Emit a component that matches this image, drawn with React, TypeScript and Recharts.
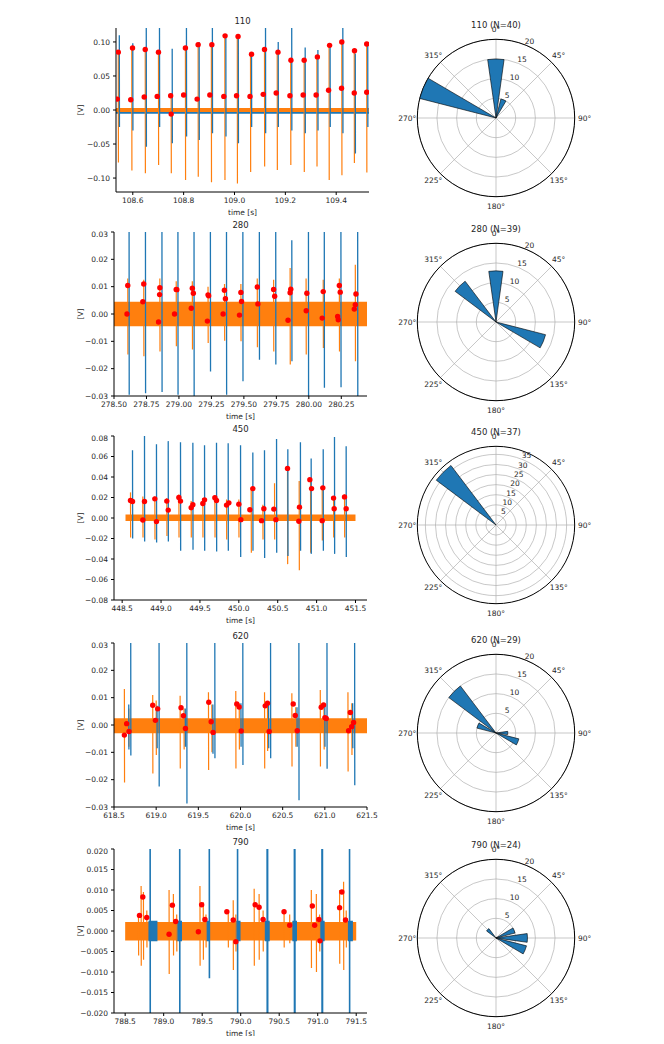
import React from "react";
import {
  ComposedChart,
  Line,
  Area,
  Scatter,
  XAxis,
  YAxis,
  RadialBarChart,
  RadialBar,
  PolarAngleAxis,
  PolarRadiusAxis,
  PolarGrid,
} from "recharts";

const FONT = "DejaVu Sans, sans-serif";
const BLUE = "#1f77b4";
const ORANGE = "#ff7f0e";
const TEXT = "#262626";

// ---------- 110 ----------
const s110OrangeT = [108.543, 108.596, 108.649, 108.701, 108.751, 108.807, 108.857, 108.909, 108.962, 109.011, 109.063, 109.118, 109.168, 109.221, 109.274, 109.324, 109.372, 109.422, 109.471, 109.52];
const s110OrangeHi = [0.087, 0.092, 0.09, 0.087, 0.025, 0.093, 0.097, 0.097, 0.11, 0.109, 0.083, 0.09, 0.086, 0.074, 0.074, 0.08, 0.096, 0.101, 0.088, 0.098];
const s110OrangeLo = [-0.077, -0.089, -0.093, -0.081, -0.093, -0.103, -0.098, -0.106, -0.103, -0.108, -0.091, -0.083, -0.088, -0.081, -0.091, -0.083, -0.103, -0.096, -0.078, -0.092];
const s110BlueT = [108.547, 108.6, 108.653, 108.705, 108.755, 108.811, 108.861, 108.913, 108.966, 109.015, 109.067, 109.122, 109.172, 109.225, 109.278, 109.328, 109.376, 109.426, 109.475, 109.524];
const s110BlueHi = [0.11, 0.098, 0.13, 0.13, 0.09, 0.13, 0.1, 0.13, 0.11, 0.105, 0.083, 0.13, 0.1, 0.13, 0.092, 0.088, 0.095, 0.13, 0.083, 0.1];
const s110BlueLo = [-0.025, -0.03, -0.054, -0.025, -0.049, -0.039, -0.044, -0.034, -0.039, -0.049, -0.025, -0.034, -0.025, -0.03, -0.034, -0.03, -0.025, -0.034, -0.064, -0.025];
const s110DotT = [108.543, 108.599, 108.649, 108.701, 108.807, 108.857, 108.911, 108.963, 109.014, 109.067, 109.118, 109.171, 109.222, 109.274, 109.326, 109.374, 109.422, 109.472, 109.52,
  108.539, 108.592, 108.645, 108.696, 108.749, 108.751, 108.8, 108.853, 108.903, 108.958, 109.008, 109.061, 109.113, 109.164, 109.218, 109.27, 109.321, 109.37, 109.421, 109.471, 109.52];
const s110DotV = [0.085, 0.091, 0.089, 0.085, 0.091, 0.096, 0.096, 0.109, 0.108, 0.082, 0.089, 0.085, 0.073, 0.073, 0.078, 0.095, 0.1, 0.087, 0.097,
  0.016, 0.015, 0.019, 0.02, 0.021, -0.006, 0.022, 0.016, 0.022, 0.02, 0.021, 0.02, 0.023, 0.025, 0.021, 0.022, 0.022, 0.029, 0.032, 0.025, 0.026];
const s110XTicks = [108.6, 108.8, 109.0, 109.2, 109.4];
const s110YTicks = [-0.1, -0.05, 0, 0.05, 0.1];

// ---------- 280 ----------
const s280OrangeT = [278.606, 278.729, 278.853, 278.979, 279.103, 279.224, 279.351, 279.477, 279.603, 279.729, 279.856, 279.979, 280.111, 280.235, 280.358];
const s280OrangeHi = [0.013, 0.0125, 0.013, 0.012, 0.012, 0.01, 0.011, 0.011, 0.013, 0.0125, 0.0168, 0.013, 0.0125, 0.013, 0.018];
const s280OrangeLo = [-0.0148, -0.0155, -0.0137, -0.0118, -0.013, -0.0106, -0.0098, -0.01, -0.0122, -0.0137, -0.0185, -0.0148, -0.0124, -0.0137, -0.0173];
const s280BlueT = [278.616, 278.742, 278.869, 278.992, 279.116, 279.242, 279.366, 279.492, 279.619, 279.745, 279.869, 279.997, 280.119, 280.247, 280.376];
const s280BlueHi = [0.04, 0.04, 0.04, 0.04, 0.04, 0.04, 0.04, 0.04, 0.04, 0.04, 0.027, 0.04, 0.04, 0.04, 0.04];
const s280BlueLo = [-0.0295, -0.029, -0.0285, -0.0295, -0.031, -0.021, -0.0295, -0.0246, -0.0167, -0.0185, -0.0173, -0.031, -0.027, -0.0268, -0.031];
const s280DotT = [278.606, 278.729, 278.853, 278.979, 279.103, 279.224, 279.35, 279.477, 279.603, 279.729, 279.861, 279.985, 280.111, 280.235, 280.363,
  278.722, 278.851, 278.984, 279.095, 279.111, 279.229, 279.358, 279.482, 279.608, 279.737, 279.856, 279.98, 280.242, 280.358, 280.35,
  278.6, 278.843, 278.966, 279.219, 279.34, 279.466, 279.84, 280.103, 280.222, 280.227];
const s280DotV = [0.0104, 0.011, 0.0096, 0.009, 0.0094, 0.007, 0.0087, 0.0079, 0.0099, 0.009, 0.0091, 0.0076, 0.0082, 0.0104, 0.0073,
  0.0045, 0.0071, 0.0089, 0.0021, 0.0076, 0.0067, 0.0056, 0.0046, 0.0037, 0.0065, 0.0078, 0.0012, 0.008, 0.0034, 0.0018,
  0.0, -0.0029, 0.0, -0.0026, 0.0, -0.0004, -0.0023, -0.0015, -0.0009, -0.0021];
const s280XTicks = [278.5, 278.75, 279.0, 279.25, 279.5, 279.75, 280.0, 280.25];
const s280YTicks = [-0.03, -0.02, -0.01, 0, 0.01, 0.02, 0.03];

// ---------- 450 ----------
const s450OrangeT = [448.607, 448.766, 448.92, 449.074, 449.229, 449.387, 449.537, 449.692, 449.842, 450.0, 450.159, 450.309, 450.459, 450.626, 450.776, 450.922, 451.072, 451.218, 451.359];
const s450OrangeHi = [0.025, 0.021, 0.021, 0.0195, 0.023, 0.0165, 0.0195, 0.022, 0.018, 0.018, 0.029, 0.013, 0.034, 0.049, 0.036, 0.039, 0.031, 0.0195, 0.023];
const s450OrangeLo = [-0.019, -0.019, -0.021, -0.0175, -0.019, -0.019, -0.019, -0.019, -0.021, -0.019, -0.034, -0.021, -0.021, -0.045, -0.051, -0.034, -0.022, -0.019, -0.019];
const s450BlueT = [448.633, 448.787, 448.941, 449.092, 449.25, 449.409, 449.559, 449.713, 449.863, 450.022, 450.18, 450.33, 450.485, 450.63, 450.792, 450.93, 451.085, 451.23, 451.38];
const s450BlueHi = [0.066, 0.085, 0.072, 0.075, 0.074, 0.0735, 0.071, 0.0735, 0.073, 0.071, 0.064, 0.066, 0.077, 0.067, 0.074, 0.058, 0.067, 0.079, 0.07];
const s450BlueLo = [-0.02, -0.023, -0.024, -0.023, -0.032, -0.031, -0.032, -0.0326, -0.032, -0.038, -0.032, -0.039, -0.034, -0.037, -0.032, -0.035, -0.032, -0.035, -0.038];
const s450DotT = [448.607, 448.633, 448.766, 448.787, 448.92, 448.941, 449.074, 449.092, 449.229, 449.25, 449.387, 449.409, 449.537, 449.559, 449.692, 449.713, 449.842, 449.872, 450.0, 450.026, 450.142, 450.18, 450.292, 450.322, 450.45, 450.476, 450.626, 450.772, 450.78, 450.913, 450.935, 451.072, 451.08, 451.218, 451.226, 451.359, 451.38];
const s450DotV = [0.0171, 0.0161, -0.0019, 0.0161, 0.0187, -0.0035, 0.0165, 0.0077, 0.02, 0.0165, 0.01, 0.0129, 0.0142, 0.0177, 0.0197, 0.0171, 0.0126, 0.0148, 0.0135, -0.0016, 0.0081, 0.0287, -0.0026, 0.009, 0.0087, -0.0016, 0.0484, -0.0032, 0.0106, 0.0374, 0.0287, -0.0026, 0.0294, 0.0194, 0.009, 0.0206, 0.009];
const s450XTicks = [448.5, 449.0, 449.5, 450.0, 450.5, 451.0, 451.5];
const s450YTicks = [-0.08, -0.06, -0.04, -0.02, 0, 0.02, 0.04, 0.06, 0.08];

// ---------- 620 ----------
const s620OrangeT = [618.623, 618.675, 618.959, 619.0, 619.284, 619.33, 619.62, 619.66, 619.944, 619.985, 620.285, 620.32, 620.609, 620.655, 620.946, 620.99, 621.274, 621.32];
const s620OrangeHi = [0.0132, 0.006, 0.011, 0.009, 0.0107, 0.006, 0.012, 0.0075, 0.0124, 0.008, 0.012, 0.0085, 0.0116, 0.0065, 0.0128, 0.006, 0.012, 0.008];
const s620OrangeLo = [-0.021, -0.008, -0.0177, -0.011, -0.0159, -0.009, -0.0165, -0.01, -0.0159, -0.009, -0.0159, -0.0095, -0.0152, -0.008, -0.0152, -0.009, -0.017, -0.011];
const s620BlueT = [618.675, 618.698, 619.01, 619.034, 619.345, 619.363, 619.672, 619.695, 620.005, 620.027, 620.333, 620.356, 620.67, 620.692, 621.0, 621.025, 621.33, 621.353];
const s620BlueHi = [0.0075, 0.04, 0.007, 0.04, 0.006, 0.04, 0.0075, 0.04, 0.008, 0.04, 0.0075, 0.04, 0.0065, 0.04, 0.0075, 0.04, 0.008, 0.04];
const s620BlueLo = [-0.009, -0.0112, -0.0085, -0.0225, -0.008, -0.0287, -0.0105, -0.0122, -0.008, -0.0146, -0.0085, -0.0122, -0.008, -0.0275, -0.008, -0.016, -0.0085, -0.022];
const s620DotT = [618.623, 618.65, 618.678, 618.959, 618.991, 619.018, 619.295, 619.323, 619.347, 619.624, 619.652, 619.675, 619.956, 619.984, 620.008, 620.293, 620.32, 620.34, 620.625, 620.649, 620.673, 620.957, 620.985, 621.001, 621.017, 621.282, 621.302, 621.318, 621.341];
const s620DotV = [-0.0037, 0.0005, -0.0024, 0.0072, 0.0017, 0.0059, 0.0063, 0.0034, -0.0013, 0.0083, 0.0012, -0.0027, 0.0077, 0.0066, -0.0022, 0.007, 0.008, -0.0024, 0.0077, 0.0035, -0.0021, 0.0065, 0.0073, 0.0027, 0.0024, -0.0021, 0.0046, -0.0006, 0.0009];
const s620XTicks = [618.5, 619.0, 619.5, 620.0, 620.5, 621.0, 621.5];
const s620YTicks = [-0.03, -0.02, -0.01, 0, 0.01, 0.02, 0.03];

// ---------- 790 ----------
const s790OrangeT = [788.673, 788.707, 788.737, 788.781, 789.07, 789.126, 789.169, 789.471, 789.514, 789.549, 789.838, 789.903, 789.937, 790.175, 790.239, 790.291, 790.563, 790.636, 790.917, 790.982, 791.025, 791.284, 791.336, 791.37];
const s790OrangeHi = [0.004, 0.011, 0.0095, 0.005, 0.01, 0.009, 0.004, 0.011, 0.007, 0.004, 0.005, 0.0075, 0.004, 0.0103, 0.009, 0.005, 0.005, 0.004, 0.01, 0.009, 0.004, 0.01, 0.012, 0.005];
const s790OrangeLo = [-0.006, -0.0085, -0.007, -0.004, -0.0105, -0.006, -0.005, -0.0085, -0.007, -0.004, -0.004, -0.0095, -0.005, -0.0085, -0.007, -0.005, -0.004, -0.003, -0.009, -0.01, -0.005, -0.008, -0.0095, -0.004];
const s790BlueT = [788.824, 789.208, 789.592, 789.959, 790.343, 790.349, 790.697, 790.703, 791.055, 791.061, 791.413];
const s790BlueHi = [0.03, 0.03, 0.03, 0.03, 0.03, 0.03, 0.03, 0.03, 0.03, 0.03, 0.03];
const s790BlueLo = [-0.03, -0.03, -0.0115, -0.03, -0.03, -0.03, -0.03, -0.03, -0.03, -0.03, -0.03];
const s790PacketStart = [788.802, 789.16, 789.549, 789.933, 790.313, 790.671, 791.025, 791.392];
const s790PacketEnd = [788.919, 789.238, 789.601, 789.998, 790.377, 790.731, 791.09, 791.457];
const s790DotT = [788.686, 788.729, 788.78, 789.07, 789.113, 789.156, 789.45, 789.493, 789.536, 789.82, 789.903, 789.937, 790.188, 790.239, 790.291, 790.563, 790.636, 790.93, 790.96, 791.016, 791.029, 791.284, 791.314, 791.361];
const s790DotV = [0.0038, 0.0083, 0.0033, -0.0008, 0.0063, 0.0023, -0.0002, 0.0064, 0.0028, 0.0047, 0.0027, -0.0026, 0.0064, 0.0058, 0.0028, 0.0047, 0.0014, 0.0061, 0.0014, 0.0028, -0.0024, 0.0057, 0.0095, 0.0027];
const s790XTicks = [788.5, 789.0, 789.5, 790.0, 790.5, 791.0, 791.5];
const s790YTicks = [-0.02, -0.015, -0.01, -0.005, 0, 0.005, 0.01, 0.015, 0.02];

// ---------- phase roses ----------
const roseBins = [0, 22.5, 45, 67.5, 90, 112.5, 135, 157.5, 180, 202.5, 225, 247.5, 270, 292.5, 315, 337.5];
const rose110 = [15, 5, 0, 0, 0, 0, 0, 0, 0, 0, 0, 0, 0, 20, 0, 0];
const rose280 = [13, 0, 0, 0, 0, 13, 0, 0, 0, 0, 0, 0, 0, 0, 13, 0];
const rose450 = [0, 0, 0, 0, 0, 0, 0, 0, 0, 0, 0, 0, 0, 0, 37, 0];
const rose620 = [0, 0, 0, 0, 3, 6, 0, 0, 0, 0, 0, 0, 0, 5, 15, 0];
const rose790 = [0, 0, 0, 5, 8, 8, 0, 0, 0, 0, 0, 0, 0, 0, 3, 0];
const gridAngles = [90, 45, 0, -45, -90, -135, -180, -225];

const ROSE_W = 210;
const ROSE_H = 200;
const ROSE_CX = 105;
const ROSE_CY = 100;
const HALF_BIN = 11.25;

type Pt = { t: number; v: number | null };

function spikes(ts: number[], hi: number[], lo: number[], d: number): Pt[] {
  const out: Pt[] = [];
  ts.forEach((t, i) => {
    out.push({ t, v: hi[i] }, { t: t + d, v: lo[i] }, { t: t + 2 * d, v: null });
  });
  return out;
}

function band(x0: number, x1: number, lo: number, hi: number) {
  return [
    { t: x0, band: [lo, hi] },
    { t: x1, band: [lo, hi] },
  ];
}

function packets(starts: number[], ends: number[], lo: number, hi: number) {
  const out: { t: number; band: number[] | null }[] = [];
  starts.forEach((s, i) => {
    out.push({ t: s, band: [lo, hi] }, { t: ends[i], band: [lo, hi] }, { t: ends[i] + 0.001, band: null });
  });
  return out;
}

const fmt = (n: number) => (v: number) => {
  const s = Math.abs(v).toFixed(n);
  return v < -1e-12 ? "\u2212" + s : s;
};

const dotShape = (p: any) => <circle cx={p.cx} cy={p.cy} r={2.7} fill="red" />;

type TraceProps = {
  title: string;
  top: number;
  axisW: number;
  rightM: number;
  xDomain: number[];
  yDomain: number[];
  xTicks: number[];
  yTicks: number[];
  xDec: number;
  yDec: number;
  orange: Pt[];
  blue: Pt[];
  orangeBand: any[];
  blueBand?: any[];
  blueOver?: any[];
  blueWidth?: number;
  dotT: number[];
  dotV: number[];
};

function Trace(p: TraceProps) {
  const dots = p.dotT.map((t, i) => ({ t, v: p.dotV[i] }));
  const tickStyle = { fontSize: 7.5, fill: TEXT, fontFamily: FONT };
  const plotCenter = p.axisW + (372 - p.axisW - p.rightM) / 2;
  return (
    <div style={{ position: "absolute", left: 0, top: p.top, width: 372, height: 190 }}>
      <div
        style={{
          position: "absolute",
          left: plotCenter - 40,
          width: 80,
          top: -11,
          textAlign: "center",
          fontSize: 8.5,
          lineHeight: "12px",
          color: TEXT,
          fontFamily: FONT,
        }}
      >
        {p.title}
      </div>
      <ComposedChart width={372} height={190} margin={{ top: 2, right: p.rightM, bottom: 0, left: 0 }}>
        <XAxis
          type="number"
          dataKey="t"
          domain={p.xDomain}
          ticks={p.xTicks}
          allowDataOverflow
          tickFormatter={fmt(p.xDec)}
          tick={tickStyle}
          tickSize={3}
          tickMargin={3}
          stroke="#000"
          height={24}
          label={{ value: "time [s]", position: "insideBottom", offset: 1, fontSize: 7.5, fill: TEXT, fontFamily: FONT }}
        />
        <YAxis
          type="number"
          domain={p.yDomain}
          ticks={p.yTicks}
          allowDataOverflow
          tickFormatter={fmt(p.yDec)}
          tick={tickStyle}
          tickSize={3}
          tickMargin={3}
          stroke="#000"
          width={p.axisW}
          label={{ value: "[V]", angle: -90, position: "insideLeft", offset: 72, fontSize: 7.5, fill: TEXT, fontFamily: FONT, style: { textAnchor: "middle" } }}
        />
        <XAxis xAxisId="top" orientation="top" type="number" domain={p.xDomain} allowDataOverflow tick={false} tickLine={false} height={0} stroke="#000" />
        <YAxis yAxisId="right" orientation="right" type="number" domain={p.yDomain} allowDataOverflow tick={false} tickLine={false} width={0} stroke="#000" />
        {p.blueBand && (
          <Area data={p.blueBand} dataKey="band" stroke="none" fill={BLUE} fillOpacity={1} isAnimationActive={false} />
        )}
        <Area data={p.orangeBand} dataKey="band" stroke="none" fill={ORANGE} fillOpacity={1} isAnimationActive={false} />
        {p.blueOver && (
          <Area data={p.blueOver} dataKey="band" stroke="none" fill={BLUE} fillOpacity={1} isAnimationActive={false} />
        )}
        <Line data={p.orange} dataKey="v" stroke={ORANGE} strokeWidth={1.2} dot={false} connectNulls={false} isAnimationActive={false} />
        <Line data={p.blue} dataKey="v" stroke={BLUE} strokeWidth={p.blueWidth ?? 1.3} dot={false} connectNulls={false} isAnimationActive={false} />
        <Scatter data={dots} dataKey="v" fill="red" shape={dotShape} isAnimationActive={false} />
      </ComposedChart>
    </div>
  );
}

// category ticks sit at the start of each band; turn them half a bin so the
// label lands on the bin centre, and only label every 45 degrees
function AngleTick(props: any) {
  const { x, y, payload } = props;
  const deg = Number(payload.value);
  if (deg % 45 !== 0) return <g />;
  const cx = props.cx ?? ROSE_CX;
  const cy = props.cy ?? ROSE_CY;
  const dx = x - cx;
  const dy = y - cy;
  const r = Math.hypot(dx, dy);
  const a = Math.atan2(-dy, dx) + (HALF_BIN * Math.PI) / 180;
  return (
    <text
      x={cx + r * Math.cos(a)}
      y={cy - r * Math.sin(a)}
      textAnchor="middle"
      dominantBaseline="central"
      fontSize={7.5}
      fontFamily={FONT}
      fill={TEXT}
    >
      {deg}°
    </text>
  );
}

function RadiusTick(props: any) {
  const { x, y, payload } = props;
  return (
    <text x={x + 3.5} y={y - 4} textAnchor="middle" dominantBaseline="central" fontSize={7.5} fontFamily={FONT} fill={TEXT}>
      {payload.value}
    </text>
  );
}

type RoseProps = { title: string; top: number; counts: number[]; rMax: number; rTicks: number[] };

function Rose(p: RoseProps) {
  const data = roseBins.map((a, i) => ({ angle: a, count: p.counts[i] }));
  const R = 78.7;
  return (
    <div style={{ position: "absolute", left: 383, top: p.top, width: ROSE_W, height: ROSE_H }}>
      <div
        style={{
          position: "absolute",
          left: 45,
          width: 120,
          top: 1,
          textAlign: "center",
          fontSize: 8.5,
          lineHeight: "12px",
          color: TEXT,
          fontFamily: FONT,
        }}
      >
        {p.title}
      </div>
      <RadialBarChart
        width={ROSE_W}
        height={ROSE_H}
        cx={ROSE_CX}
        cy={ROSE_CY}
        innerRadius={0}
        outerRadius={R}
        startAngle={90 - HALF_BIN}
        endAngle={-270 - HALF_BIN}
        layout="centric"
        data={data}
        barCategoryGap="15%"
      >
        <PolarAngleAxis type="category" dataKey="angle" tickSize={10} tickLine={false} axisLine={false} tick={<AngleTick />} />
        <PolarRadiusAxis type="number" domain={[0, p.rMax]} ticks={p.rTicks} angle={67.5} axisLine={false} tickLine={false} tick={<RadiusTick />} />
        <RadialBar dataKey="count" fill={BLUE} stroke="#000" strokeWidth={0.6} isAnimationActive={false} />
        <PolarGrid gridType="circle" polarAngles={gridAngles} stroke="#b0b0b0" strokeWidth={0.7} />
        <PolarGrid gridType="circle" radialLines={false} polarAngles={[]} polarRadius={[R]} stroke="#000" strokeWidth={1} />
      </RadialBarChart>
    </div>
  );
}

export default function App() {
  return (
    <div style={{ position: "relative", width: 648, height: 1028, fontFamily: FONT }}>
      <Trace
        title="110"
        top={18.3}
        axisW={108}
        rightM={11}
        xDomain={[108.534, 109.529]}
        yDomain={[-0.1205, 0.1205]}
        xTicks={s110XTicks}
        yTicks={s110YTicks}
        xDec={1}
        yDec={2}
        orange={spikes(s110OrangeT, s110OrangeHi, s110OrangeLo, 0.0006)}
        blue={spikes(s110BlueT, s110BlueHi, s110BlueLo, 0.0006)}
        blueBand={band(108.534, 109.529, -0.0055, 0.002)}
        orangeBand={band(108.534, 109.529, -0.003, 0.003)}
        dotT={s110DotT}
        dotV={s110DotV}
      />
      <Trace
        title="280"
        top={222.3}
        axisW={106}
        rightM={13}
        xDomain={[278.5, 280.448]}
        yDomain={[-0.03, 0.03]}
        xTicks={s280XTicks}
        yTicks={s280YTicks}
        xDec={2}
        yDec={2}
        orange={spikes(s280OrangeT, s280OrangeHi, s280OrangeLo, 0.0012)}
        blue={spikes(s280BlueT, s280BlueHi, s280BlueLo, 0.0012)}
        orangeBand={band(278.5, 280.448, -0.0045, 0.0045)}
        dotT={s280DotT}
        dotV={s280DotV}
      />
      <Trace
        title="450"
        top={426}
        axisW={106}
        rightM={13}
        xDomain={[448.395, 451.648]}
        yDomain={[-0.08, 0.08]}
        xTicks={s450XTicks}
        yTicks={s450YTicks}
        xDec={1}
        yDec={2}
        orange={spikes(s450OrangeT, s450OrangeHi, s450OrangeLo, 0.002)}
        blue={spikes(s450BlueT, s450BlueHi, s450BlueLo, 0.002)}
        orangeBand={band(448.543, 451.5, -0.003, 0.0035)}
        dotT={s450DotT}
        dotV={s450DotV}
      />
      <Trace
        title="620"
        top={633.3}
        axisW={106}
        rightM={13}
        xDomain={[618.5, 621.5]}
        yDomain={[-0.03, 0.03]}
        xTicks={s620XTicks}
        yTicks={s620YTicks}
        xDec={1}
        yDec={2}
        orange={spikes(s620OrangeT, s620OrangeHi, s620OrangeLo, 0.002)}
        blue={spikes(s620BlueT, s620BlueHi, s620BlueLo, 0.002)}
        orangeBand={band(618.5, 621.5, -0.003, 0.0025)}
        dotT={s620DotT}
        dotV={s620DotV}
      />
      <Trace
        title="790"
        top={839.3}
        axisW={106}
        rightM={13}
        xDomain={[788.355, 791.64]}
        yDomain={[-0.02, 0.02]}
        xTicks={s790XTicks}
        yTicks={s790YTicks}
        xDec={1}
        yDec={3}
        orange={spikes(s790OrangeT, s790OrangeHi, s790OrangeLo, 0.002)}
        blue={spikes(s790BlueT, s790BlueHi, s790BlueLo, 0.002)}
        blueWidth={1.6}
        orangeBand={band(788.5, 791.5, -0.0023, 0.0022)}
        blueOver={packets(s790PacketStart, s790PacketEnd, -0.0025, 0.0025)}
        dotT={s790DotT}
        dotV={s790DotV}
      />

      <Rose title="110 (N=40)" top={9.7} counts={rose110} rMax={20} rTicks={[5, 10, 15, 20]} />
      <Rose title="280 (N=39)" top={214.3} counts={rose280} rMax={20} rTicks={[5, 10, 15, 20]} />
      <Rose title="450 (N=37)" top={417} counts={rose450} rMax={38.85} rTicks={[5, 10, 15, 20, 25, 30, 35]} />
      <Rose title="620 (N=29)" top={624.7} counts={rose620} rMax={20} rTicks={[5, 10, 15, 20]} />
      <Rose title="790 (N=24)" top={830.3} counts={rose790} rMax={20} rTicks={[5, 10, 15, 20]} />
    </div>
  );
}
